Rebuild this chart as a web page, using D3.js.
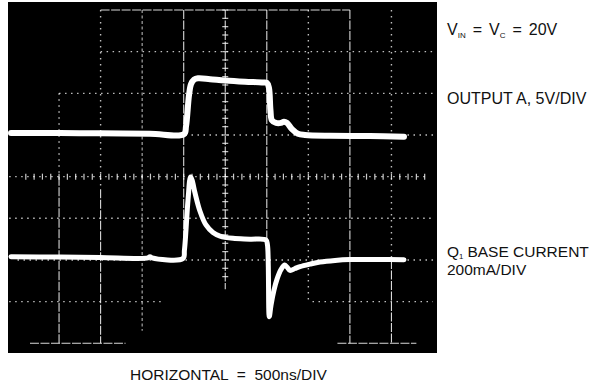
<!DOCTYPE html>
<html>
<head>
<meta charset="utf-8">
<script src="https://cdn.jsdelivr.net/npm/d3@7"></script>
<style>
  html, body { margin: 0; padding: 0; background: #fff; }
  svg { display: block; }
  text { font-family: "Liberation Sans", Arial, Helvetica, sans-serif; fill: #111; }
</style>
</head>
<body>
<svg id="chart" width="593" height="387"></svg>
<script>
// ---- Data (time in ns, vertical position in screen divisions) ----
const outputATime = [-78, 511, 993, 1594, 2004, 2028, 2064, 2088, 2124, 2172, 2317, 2497, 2738, 2942, 3002, 3026, 3044, 3062, 3111, 3171, 3207, 3243, 3303, 3375, 3460, 3760, 4242, 4651];
const outputADiv  = [5.05, 5.047, 5.04, 5.03, 5.023, 5.21, 5.96, 6.22, 6.33, 6.36, 6.34, 6.31, 6.28, 6.26, 6.25, 6.13, 5.60, 5.35, 5.29, 5.29, 5.32, 5.29, 5.14, 5.03, 5.00, 4.98, 4.975, 4.96];

const baseTime = [-78, 511, 993, 1570, 1594, 1619, 1991, 2009, 2052, 2082, 2100, 2136, 2196, 2268, 2352, 2437, 2593, 2798, 2990, 3008, 3030, 3051, 3087, 3123, 3171, 3213, 3243, 3279, 3339, 3399, 3520, 3640, 3821, 4001, 4362, 4651];
const baseDiv  = [2.08, 2.07, 2.06, 2.05, 2.08, 2.05, 2.035, 2.24, 3.44, 3.99, 3.92, 3.61, 3.17, 2.84, 2.66, 2.575, 2.52, 2.50, 2.48, 2.36, 0.64, 0.92, 1.28, 1.54, 1.77, 1.88, 1.83, 1.75, 1.795, 1.84, 1.90, 1.95, 1.99, 2.01, 2.01, 2.006];

const divisionsX = 10;          // horizontal divisions
const divisionsY = 8;           // vertical divisions
const nsPerDiv = 500;

const supplyLabel = [["V", false], ["IN", true], ["=", false], ["V", false], ["C", true], ["=", false], ["20V", false]];
const outputALabel = "OUTPUT A, 5V/DIV";
const baseLabel1 = [["Q", false], ["1", true], ["BASE CURRENT", false]];
const baseLabel2 = "200mA/DIV";
const horizontalLabel = "HORIZONTAL  =  500ns/DIV";

// ---- Scales ----
const svg = d3.select("#chart");
const x = d3.scaleLinear().domain([0, divisionsX * nsPerDiv]).range([17.5, 433]);
const xd = d3.scaleLinear().domain([0, divisionsX]).range([17.5, 433]);
const y = d3.scaleLinear().domain([0, divisionsY]).range([343.3, 10]);

// Screen background
svg.append("rect").attr("x", 8).attr("y", 2).attr("width", 429).attr("height", 351).attr("fill", "#000");

// ---- Graticule (segments in division units) ----
const styles = {
  solid: { dash: "9,1.5", w: 1.1, op: 0.85 },
  dash:  { dash: "3,2.5", w: 1.1, op: 0.7 },
  dot:   { dash: "1.5,4.5", w: 1.4, op: 0.75 }
};
const vSegs = [
  [1, 6.0, 4.0, "dot"], [1, 4.0, 0, "solid"],
  [2, 8, 3.7, "dot"], [2, 3.7, 0, "solid"],
  [3, 8, 0.3, "dash"],
  [4, 8, 2, "solid"],
  [5, 8, 1.3, "solid"],
  [6, 8, 2, "solid"],
  [7, 8, 1, "dot"],
  [8, 8, 0, "solid"],
  [9, 8, 2, "dot"], [9, 2, 0, "solid"]
];
const hSegs = [
  [8, 2, 8, "solid"],
  [7, 2, 10, "dot"],
  [6, 1, 10, "dot"],
  [5, 0, 10, "dot"],
  [4, -0.2, 9.9, "dot"],
  [3, -0.2, 10, "dot"],
  [2, 0, 10, "dot"],
  [1, -0.2, 3.5, "dot"], [1, 7.1, 10, "dot"],
  [0, 0.3, 2.6, "solid"], [0, 7.7, 9.6, "solid"]
];
const grid = svg.append("g");
vSegs.forEach(([i, a, b, s]) => {
  const st = styles[s];
  grid.append("line").attr("x1", xd(i)).attr("x2", xd(i)).attr("y1", y(a)).attr("y2", y(b))
    .attr("stroke", "#fff").attr("stroke-width", st.w).attr("stroke-dasharray", st.dash).attr("opacity", st.op);
});
hSegs.forEach(([j, a, b, s]) => {
  const st = styles[s];
  grid.append("line").attr("y1", y(j)).attr("y2", y(j)).attr("x1", xd(a)).attr("x2", xd(b))
    .attr("stroke", "#fff").attr("stroke-width", st.w).attr("stroke-dasharray", st.dash).attr("opacity", st.op);
});
// minor ticks on centre lines
const vTicks = d3.range(1.6 / 0.2, 8 / 0.2 + 1).map(k => k * 0.2);
grid.selectAll(".vt").data(vTicks).enter().append("line")
  .attr("x1", xd(5) - 3).attr("x2", xd(5) + 3).attr("y1", d => y(d)).attr("y2", d => y(d))
  .attr("stroke", "#fff").attr("stroke-width", 1.2).attr("opacity", 0.8);
const hTicks = d3.range(0, 10 / 0.2 + 1).map(k => k * 0.2).filter(d => d > 0.1 && d < 9.9);
grid.selectAll(".ht").data(hTicks).enter().append("line")
  .attr("x1", d => xd(d)).attr("x2", d => xd(d)).attr("y1", y(4) - 3).attr("y2", y(4) + 3)
  .attr("stroke", "#fff").attr("stroke-width", 1.2).attr("opacity", 0.8);

// ---- Traces ----
const traceLine = d3.line().x(d => x(d[0])).y(d => y(d[1])).curve(d3.curveCatmullRom.alpha(0.5));
svg.append("path").datum(d3.zip(outputATime, outputADiv)).attr("d", traceLine)
  .attr("fill", "none").attr("stroke", "#fff").attr("stroke-width", 6)
  .attr("stroke-linejoin", "round").attr("stroke-linecap", "round");
svg.append("path").datum(d3.zip(baseTime, baseDiv)).attr("d", traceLine)
  .attr("fill", "none").attr("stroke", "#fff").attr("stroke-width", 5)
  .attr("stroke-linejoin", "round").attr("stroke-linecap", "round");

// ---- Labels ----
function richText(xPos, yPos, parts, size, gap, sub) {
  const t = svg.append("text").attr("x", xPos).attr("y", yPos).attr("font-size", size);
  let wasSub = false;
  parts.forEach(([s, isSub], i) => {
    const ts = t.append("tspan").text(s).attr("font-size", isSub ? size * 0.5 : size);
    let dy = 0;
    if (isSub && !wasSub) dy = sub;
    if (!isSub && wasSub) dy = -sub;
    ts.attr("dy", dy);
    if (i > 0 && !isSub) ts.attr("dx", gap);
    wasSub = isSub;
  });
  return t;
}
richText(447, 35, supplyLabel, 16, 7, 3);
svg.append("text").attr("x", 447).attr("y", 104).attr("font-size", 16).text(outputALabel);
richText(447, 257, baseLabel1, 15.5, 4, 2);
svg.append("text").attr("x", 447).attr("y", 275).attr("font-size", 15.5).text(baseLabel2);
svg.append("text").attr("x", 130).attr("y", 380).attr("font-size", 15.5).attr("xml:space", "preserve").text(horizontalLabel);
</script>
</body>
</html>
